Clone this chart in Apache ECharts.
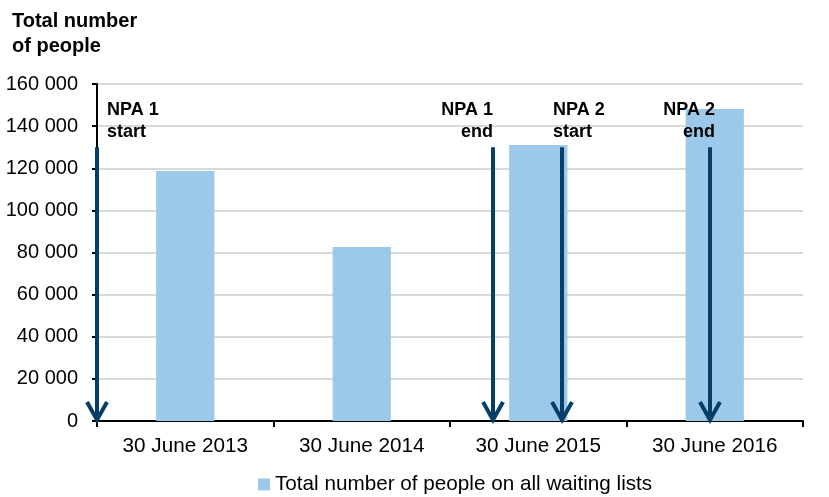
<!DOCTYPE html>
<html>
<head>
<meta charset="utf-8">
<script src="https://cdn.jsdelivr.net/npm/echarts@6/dist/echarts.min.js"></script>
<style>html,body{margin:0;padding:0;background:#fff}#c{width:829px;height:497px}</style>
</head>
<body>
<div id="c"></div>
<script>
var categories = ['30 June 2013', '30 June 2014', '30 June 2015', '30 June 2016'];
var seriesName = 'Total number of people on all waiting lists';
var waitingListValues = [118700, 82600, 131000, 148100];
var yTicks = [0, 20000, 40000, 60000, 80000, 100000, 120000, 140000, 160000];
var arrowPositions = [0, 2.245, 2.633, 3.473];   // in category units from left edge
var arrowTopValue = 130000;
var arrowLabels = ['NPA 1\nstart', 'NPA 1\nend', 'NPA 2\nstart', 'NPA 2\nend'];
var arrowLabelAlign = ['left', 'right', 'left', 'right'];
var arrowLabelDx = [10, 0, -9, 5];

var FONT = 'Liberation Sans, Arial, sans-serif';
var NAVY = '#053e66';
var chart = echarts.init(document.getElementById('c'));

function fmt(v) {
  return String(v).replace(/\B(?=(\d{3})+(?!\d))/g, ' ');
}

var arrowData = arrowPositions.map(function (p, i) { return [p, arrowTopValue, i]; });

chart.setOption({
  animation: false,
  textStyle: { fontFamily: FONT },
  title: {
    text: 'Total number\nof people',
    left: 7, top: 4,
    textStyle: { fontSize: 20, fontWeight: 'bold', color: '#000', lineHeight: 25, fontFamily: FONT }
  },
  legend: {
    top: 469, left: 253,
    itemWidth: 12, itemHeight: 12, itemGap: 10,
    icon: 'rect',
    textStyle: { fontSize: 20.7, color: '#000', fontFamily: FONT },
    data: [seriesName]
  },
  grid: { left: 97, right: 26, top: 84, bottom: 76, containLabel: false },
  xAxis: [{
    type: 'category',
    data: categories,
    axisLine: { lineStyle: { color: '#000', width: 2 } },
    axisTick: { show: true, length: 6, lineStyle: { color: '#000', width: 2 } },
    axisLabel: { fontSize: 20.7, color: '#000', margin: 15, fontFamily: FONT }
  }, {
    type: 'value', min: 0, max: categories.length, show: false
  }],
  yAxis: {
    type: 'value', min: yTicks[0], max: yTicks[yTicks.length - 1], interval: yTicks[1] - yTicks[0],
    axisLine: { show: true, lineStyle: { color: '#000', width: 2 } },
    axisTick: { show: true, length: 5, lineStyle: { color: '#000', width: 2 } },
    splitLine: { lineStyle: { color: '#d9d9d9', width: 2 } },
    axisLabel: { fontSize: 20, color: '#000', margin: 19, formatter: fmt, fontFamily: FONT }
  },
  series: [{
    name: seriesName,
    type: 'bar',
    data: waitingListValues,
    barWidth: '33%',
    itemStyle: { color: '#9cc8e9' }
  }, {
    type: 'custom',
    xAxisIndex: 1,
    yAxisIndex: 0,
    data: arrowData,
    z: 5,
    renderItem: function (params, api) {
      var i = api.value(2);
      var top = api.coord([api.value(0), api.value(1)]);
      var bot = api.coord([api.value(0), 0]);
      var x = Math.round(top[0]);
      var tipY = bot[1] - 1;
      return {
        type: 'group',
        children: [{
          type: 'line',
          shape: { x1: x, y1: top[1], x2: x, y2: tipY - 1 },
          style: { stroke: NAVY, lineWidth: 4 }
        }, {
          type: 'polyline',
          shape: { points: [[x - 10, tipY - 18], [x, tipY], [x + 10, tipY - 18]] },
          style: { stroke: NAVY, lineWidth: 4, fill: null, lineJoin: 'miter' }
        }, {
          type: 'text',
          style: {
            text: arrowLabels[i],
            x: x + arrowLabelDx[i],
            y: top[1] - 48,
            textAlign: arrowLabelAlign[i],
            textVerticalAlign: 'top',
            font: 'bold 18px ' + FONT,
            lineHeight: 22,
            align: arrowLabelAlign[i],
            verticalAlign: 'top',
            fill: '#000'
          }
        }]
      };
    }
  }]
});
</script>
</body>
</html>
